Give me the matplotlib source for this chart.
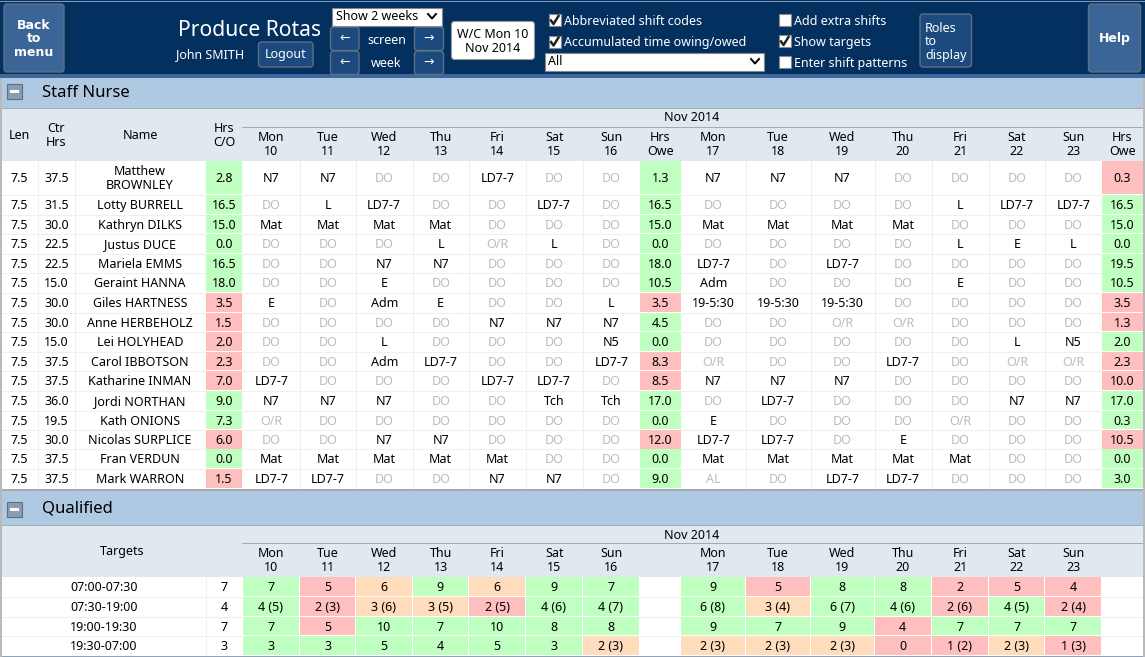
"""
rota_screen.py
Draws the Produce Rotas screen: toolbar, Staff Nurse rota and Qualified targets.
"""

import matplotlib
matplotlib.use("Agg")
import matplotlib.pyplot as plt
from matplotlib.patches import FancyBboxPatch, Rectangle

# --- Data ---
WEEK_1_DAYS = ["Mon\n10", "Tue\n11", "Wed\n12", "Thu\n13", "Fri\n14", "Sat\n15", "Sun\n16"]
WEEK_2_DAYS = ["Mon\n17", "Tue\n18", "Wed\n19", "Thu\n20", "Fri\n21", "Sat\n22", "Sun\n23"]

names = ["Matthew\nBROWNLEY", "Lotty BURRELL", "Kathryn DILKS", "Justus DUCE", "Mariela EMMS",
         "Geraint HANNA", "Giles HARTNESS", "Anne HERBEHOLZ", "Lei HOLYHEAD", "Carol IBBOTSON",
         "Katharine INMAN", "Jordi NORTHAN", "Kath ONIONS", "Nicolas SURPLICE", "Fran VERDUN",
         "Mark WARRON"]
ctr_hrs = ["37.5", "31.5", "30.0", "22.5", "22.5", "15.0", "30.0", "30.0", "15.0", "37.5",
           "37.5", "36.0", "19.5", "30.0", "37.5", "37.5"]
hrs_co = ["2.8", "16.5", "15.0", "0.0", "16.5", "18.0", "3.5", "1.5", "2.0", "2.3",
          "7.0", "9.0", "7.3", "6.0", "0.0", "1.5"]
hrs_co_state = "ggggggrrrrrggrgr"
week_1_shifts = [
    ["N7", "N7", "DO", "DO", "LD7-7", "DO", "DO"],
    ["DO", "L", "LD7-7", "DO", "DO", "LD7-7", "DO"],
    ["Mat", "Mat", "Mat", "Mat", "DO", "DO", "DO"],
    ["DO", "DO", "DO", "L", "O/R", "L", "DO"],
    ["DO", "DO", "N7", "N7", "DO", "DO", "DO"],
    ["DO", "DO", "E", "DO", "DO", "DO", "DO"],
    ["E", "DO", "Adm", "E", "DO", "DO", "L"],
    ["DO", "DO", "DO", "DO", "N7", "N7", "N7"],
    ["DO", "DO", "L", "DO", "DO", "DO", "N5"],
    ["DO", "DO", "Adm", "LD7-7", "DO", "DO", "LD7-7"],
    ["LD7-7", "DO", "DO", "DO", "LD7-7", "LD7-7", "DO"],
    ["N7", "N7", "N7", "DO", "DO", "Tch", "Tch"],
    ["O/R", "DO", "DO", "DO", "DO", "DO", "DO"],
    ["DO", "DO", "N7", "N7", "DO", "DO", "DO"],
    ["Mat", "Mat", "Mat", "Mat", "Mat", "DO", "DO"],
    ["LD7-7", "LD7-7", "DO", "DO", "N7", "N7", "DO"],
]
week_2_shifts = [
    ["N7", "N7", "N7", "DO", "DO", "DO", "DO"],
    ["DO", "DO", "DO", "DO", "L", "LD7-7", "LD7-7"],
    ["Mat", "Mat", "Mat", "Mat", "DO", "DO", "DO"],
    ["DO", "DO", "DO", "DO", "L", "E", "L"],
    ["LD7-7", "DO", "LD7-7", "DO", "DO", "DO", "DO"],
    ["Adm", "DO", "DO", "DO", "E", "DO", "DO"],
    ["19-5:30", "19-5:30", "19-5:30", "DO", "DO", "DO", "DO"],
    ["DO", "DO", "O/R", "O/R", "DO", "DO", "DO"],
    ["DO", "DO", "DO", "DO", "DO", "L", "N5"],
    ["O/R", "DO", "DO", "LD7-7", "DO", "O/R", "O/R"],
    ["N7", "N7", "N7", "DO", "DO", "DO", "DO"],
    ["DO", "LD7-7", "DO", "DO", "DO", "N7", "N7"],
    ["E", "DO", "DO", "DO", "O/R", "DO", "DO"],
    ["LD7-7", "LD7-7", "DO", "E", "DO", "DO", "DO"],
    ["Mat", "Mat", "Mat", "Mat", "Mat", "DO", "DO"],
    ["AL", "DO", "LD7-7", "LD7-7", "DO", "DO", "DO"],
]
hrs_owe_1 = ["1.3", "16.5", "15.0", "0.0", "18.0", "10.5", "3.5", "4.5", "0.0", "8.3",
             "8.5", "17.0", "0.0", "12.0", "0.0", "9.0"]
hrs_owe_1_state = "ggggggrggrrggrgg"
hrs_owe_2 = ["0.3", "16.5", "15.0", "0.0", "19.5", "10.5", "3.5", "1.3", "2.0", "2.3",
             "10.0", "17.0", "0.3", "10.5", "0.0", "3.0"]
hrs_owe_2_state = "rgggggrrgrrggrgg"

target_slots = ["07:00-07:30", "07:30-19:00", "19:00-19:30", "19:30-07:00"]
target_mins = ["7", "4", "7", "3"]
target_week_1 = [
    ["7", "5", "6", "9", "6", "9", "7"],
    ["4 (5)", "2 (3)", "3 (6)", "3 (5)", "2 (5)", "4 (6)", "4 (7)"],
    ["7", "5", "10", "7", "10", "8", "8"],
    ["3", "3", "5", "4", "5", "3", "2 (3)"],
]
target_week_1_state = ["grogogg", "groorgg", "grggggg", "ggggggo"]
target_week_2 = [
    ["9", "5", "8", "8", "2", "5", "4"],
    ["6 (8)", "3 (4)", "6 (7)", "4 (6)", "2 (6)", "4 (5)", "2 (4)"],
    ["9", "7", "9", "4", "7", "7", "7"],
    ["2 (3)", "2 (3)", "2 (3)", "0", "1 (2)", "2 (3)", "1 (3)"],
]
target_week_2_state = ["grggrrr", "goggrgr", "gggrggg", "ooorror"]

# --- Layout (pixels) ---
FONT = ["Noto Sans", "DejaVu Sans"]
TXT = 9.0
LEN_X = (2, 37.5)
CTR_X = (38.5, 74.5)
NAME_X = (75.5, 205.5)
CO_X = (206, 242)
W1_X = [242.5, 300, 356, 412.5, 469, 526, 582.5, 640]
OWE1_X = (640, 680.5)
W2_X = [681, 745.5, 810.5, 874.5, 931.5, 989, 1045, 1102]
OWE2_X = (1102, 1143)
ROW_Y = [161, 194.5, 214.5, 234, 253.7, 273.3, 293, 312.7, 332, 351.5, 371, 390.5,
         410.5, 430, 449.3, 468.7, 488.5]
TARGET_Y = [577, 596.5, 616.5, 636, 655.5]

NAVY = "#03305f"
BUTTON = "#1c4a7e"
BIG_BUTTON = "#3b6497"
STRIP = "#3f689a"
BAND = "#afc9e3"
HEAD = "#e0e8f0"
LINE = "#a3acb5"
CELL = {"g": "#bfffbf", "r": "#ffbfbf", "o": "#ffdcbc"}
MUTED = "#bcbcbc"
GRID = "#f0f0f0"

fig = plt.figure(figsize=(11.45, 6.57), dpi=100, facecolor="white")
ax = fig.add_axes([0, 0, 1, 1])
ax.set_xlim(0, 1145)
ax.set_ylim(657, 0)
ax.axis("off")


def box(x0, y0, x1, y1, color, edge="none", lw=0, z=1):
    ax.add_patch(Rectangle((x0, y0), x1 - x0, y1 - y0, facecolor=color, edgecolor=edge,
                           linewidth=lw, zorder=z))


def label(x, y, s, color="black", size=TXT, ha="center", family=FONT, weight="normal", spacing=1.1):
    # Noto Sans sits a little high against the reference font
    ax.text(x, y + 0.8, s, color=color, fontsize=size, ha=ha, va="center", family=family,
            fontweight=weight, linespacing=spacing, zorder=5)


def button(x0, y0, x1, y1, color, edge="#5f6f82"):
    ax.add_patch(FancyBboxPatch((x0 + 3, y0 + 3), x1 - x0 - 6, y1 - y0 - 6,
                                boxstyle="round,pad=3", facecolor=color, edgecolor=edge,
                                linewidth=1, zorder=2))


def chevron(x, y):
    ax.plot([x - 4, x, x + 4], [y - 2, y + 2.5, y - 2], color="black", lw=1.4, zorder=5)


def checkbox(x, y, ticked):
    box(x, y, x + 12, y + 12, "white", edge="#888888", lw=0.8, z=3)
    if ticked:
        ax.plot([x + 2.5, x + 5, x + 10], [y + 6.5, y + 10, y + 2], color="#222222", lw=1.8, zorder=5)


def minus_icon(y):
    box(6.5, y, 22, y + 15, "#8a9db3", edge="#5f6f82", lw=0.8, z=3)
    box(10, y + 6, 18.5, y + 9, "white", z=4)


def day_headers(days, edges, y):
    for i, day in enumerate(days):
        label((edges[i] + edges[i + 1]) / 2, y, day)


def shift_row(shifts, edges, y):
    for i, code in enumerate(shifts):
        col = MUTED if code in ("DO", "O/R", "AL") else "black"
        label((edges[i] + edges[i + 1]) / 2, y, code, color=col)


def state_cell(xs, y0, y1, value, state):
    box(xs[0], y0, xs[1], y1 - 0.8, CELL[state], z=2)
    label((xs[0] + xs[1]) / 2, (y0 + y1) / 2, value)


def draw_toolbar():
    box(0, 0, 1145, 74, NAVY)
    box(0, 1, 1145, 2, "#7d9cc0", z=2)
    box(0, 74, 1145, 78, STRIP)

    button(4, 4, 64, 72, BIG_BUTTON)
    label(34, 38, "Back\nto\nmenu", color="white", size=9.0, family="DejaVu Sans", weight="bold", spacing=1.05)
    label(249.5, 29.5, "Produce Rotas", color="white", size=15.2)
    label(210, 54, "John SMITH", color="white")
    button(258.5, 42, 313, 67, BUTTON)
    label(285.5, 54, "Logout", color="white")

    box(332, 7.5, 442, 26, "white", edge="#888888", lw=0.8, z=3)
    label(336, 16, "Show 2 weeks", ha="left")
    chevron(432, 16)
    for y0, y1, word, word_y in ((27, 50.5, "screen", 39.5), (51, 74.5, "week", 62.5)):
        button(330.5, y0, 359, y1, BUTTON)
        button(414.5, y0, 443.5, y1, BUTTON)
        label(344.7, (y0 + y1) / 2 - 1, "←", color="white", size=9)
        label(429, (y0 + y1) / 2 - 1, "→", color="white", size=9)
        label(386.5, word_y, word, color="white")

    ax.add_patch(FancyBboxPatch((454.5, 24.5), 77, 32, boxstyle="round,pad=3",
                                facecolor="white", edgecolor="#999999", linewidth=0.8, zorder=2))
    label(493, 40.5, "W/C Mon 10\nNov 2014", spacing=1.15)

    checkbox(548.5, 14, True)
    label(564, 21, "Abbreviated shift codes", color="white", ha="left")
    checkbox(548.5, 35.5, True)
    label(564, 42, "Accumulated time owing/owed", color="white", ha="left")
    box(544.5, 52.5, 763.5, 71, "white", edge="#888888", lw=0.8, z=3)
    label(548, 61, "All", ha="left")
    chevron(755, 61)

    checkbox(778.5, 13.5, False)
    label(794.5, 21, "Add extra shifts", color="white", ha="left")
    checkbox(778.5, 35, True)
    label(794.5, 42, "Show targets", color="white", ha="left")
    checkbox(778.5, 55.5, False)
    label(794.5, 63, "Enter shift patterns", color="white", ha="left")

    button(920, 14, 971.5, 67, BUTTON)
    label(925, 41, "Roles\nto\ndisplay", color="white", ha="left", spacing=1.08)
    button(1088.5, 4, 1140.5, 72, BIG_BUTTON)
    label(1114.5, 37.5, "Help", color="white", size=9.0, family="DejaVu Sans", weight="bold")


def draw_staff_table():
    box(2, 78, 1143, 108, BAND)
    box(2, 107.5, 1143, 108.8, LINE, z=2)
    minus_icon(84)
    label(42, 92, "Staff Nurse", size=12, ha="left")

    box(2, 109, 1143, 161, HEAD)
    box(242, 127, 1143, 128, LINE, z=2)
    label(692, 117, "Nov 2014")
    label(19.5, 135, "Len")
    label(56.5, 135, "Ctr\nHrs")
    label(140, 135, "Name")
    label(224, 135, "Hrs\nC/O")
    day_headers(WEEK_1_DAYS, W1_X, 143.5)
    label(660.5, 143.5, "Hrs\nOwe")
    day_headers(WEEK_2_DAYS, W2_X, 143.5)
    label(1122.5, 143.5, "Hrs\nOwe")

    # cell grid
    for y in ROW_Y[1:-1]:
        ax.plot([2, 1143], [y, y], color=GRID, lw=0.8, zorder=1)
    for x in [LEN_X[1], CTR_X[1]] + W1_X[1:-1] + W2_X[1:-1]:
        ax.plot([x, x], [ROW_Y[0], ROW_Y[-1]], color=GRID, lw=0.8, zorder=1)

    for i, name in enumerate(names):
        y0, y1 = ROW_Y[i], ROW_Y[i + 1]
        y = (y0 + y1) / 2
        label(19.5, y, "7.5")
        label(56.5, y, ctr_hrs[i])
        label(140, y, name)
        state_cell(CO_X, y0, y1, hrs_co[i], hrs_co_state[i])
        shift_row(week_1_shifts[i], W1_X, y)
        state_cell(OWE1_X, y0, y1, hrs_owe_1[i], hrs_owe_1_state[i])
        shift_row(week_2_shifts[i], W2_X, y)
        state_cell(OWE2_X, y0, y1, hrs_owe_2[i], hrs_owe_2_state[i])


def draw_targets():
    box(2, 489, 1143, 490.5, LINE, z=2)
    box(2, 491, 1143, 525, BAND)
    box(2, 525, 1143, 526, LINE, z=2)
    minus_icon(501.5)
    label(42, 508, "Qualified", size=12, ha="left")

    box(2, 526, 1143, 576.5, HEAD)
    box(242, 543, 1143, 544, LINE, z=2)
    label(692, 534.5, "Nov 2014")
    label(122, 550.5, "Targets")
    day_headers(WEEK_1_DAYS, W1_X, 559.5)
    day_headers(WEEK_2_DAYS, W2_X, 559.5)

    for y in TARGET_Y[1:-1]:
        ax.plot([2, 1143], [y, y], color=GRID, lw=0.8, zorder=1)
    ax.plot([205.5, 205.5], [TARGET_Y[0], TARGET_Y[-1]], color=GRID, lw=0.8, zorder=1)

    for i, slot in enumerate(target_slots):
        y0, y1 = TARGET_Y[i], TARGET_Y[i + 1]
        y = (y0 + y1) / 2
        label(104, y, slot)
        label(224, y, target_mins[i])
        for edges, values, states in ((W1_X, target_week_1, target_week_1_state),
                                      (W2_X, target_week_2, target_week_2_state)):
            for j, value in enumerate(values[i]):
                state_cell((edges[j], edges[j + 1] - 0.8), y0, y1, value, states[i][j])
    box(2, 655.5, 1143, 657, "#8fa3b8", z=3)


draw_toolbar()
draw_staff_table()
draw_targets()
# grey frame down both sides of the page body
box(0, 78, 2, 657, "#b9b9b9", z=4)
box(1143, 78, 1145, 657, "#b9b9b9", z=4)

fig.savefig("out.png", dpi=100, facecolor="white")
